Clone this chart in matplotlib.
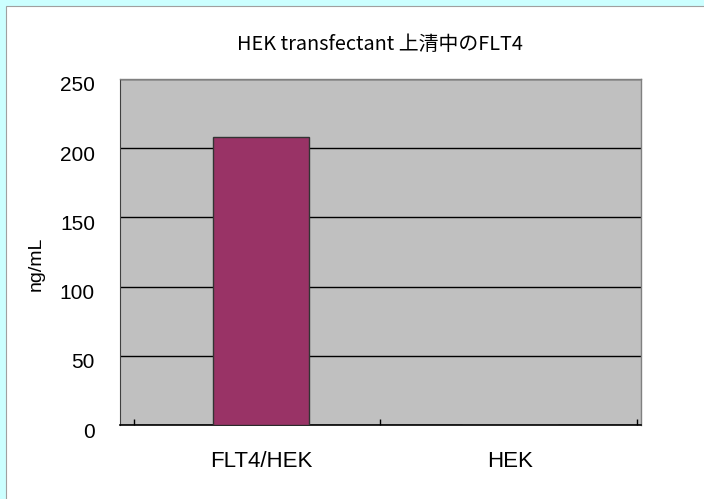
import matplotlib
matplotlib.use('Agg')
import matplotlib.pyplot as plt
from matplotlib.patches import Rectangle
from matplotlib.transforms import ScaledTranslation

categories = ['FLT4/HEK', 'HEK']
values = [208, 0]
yticks = [0, 50, 100, 150, 200, 250]
title = 'HEK transfectant 上清中のFLT4'
ylabel = 'ng/mL'

plt.rcParams['font.family'] = ['Liberation Sans', 'DejaVu Sans']

fig = plt.figure(figsize=(7.04, 4.99), dpi=100)
fig.patch.set_facecolor('white')

# cyan frame on top and left edges only
fig.patches.append(Rectangle((0, 0), 1, 1, transform=fig.transFigure,
                             facecolor='#CCFFFF', edgecolor='none', zorder=-3))
fig.patches.append(Rectangle((6 / 704, -0.05), 1.1, 1.05 - 6 / 499, transform=fig.transFigure,
                             facecolor='white', edgecolor='#A0A0A0', linewidth=0.8, zorder=-2))

ax = fig.add_axes([120 / 704, 74 / 499, 521 / 704, 346 / 499])
ax.set_facecolor('#C0C0C0')

x = list(range(len(categories)))
ax.bar(x, values, width=0.386, color='#993366', edgecolor='#333333', linewidth=1, zorder=3)

ax.set_ylim(0, 250)
ax.set_xlim(-0.566, 1.526)
ax.set_yticks(yticks)
ax.set_yticklabels([str(v) for v in yticks], fontsize=15)
ax.yaxis.grid(True, color='black', linewidth=1)
ax.set_axisbelow(True)
ax.tick_params(axis='y', length=0, pad=18)
shift = ScaledTranslation(0, -5 / 100, fig.dpi_scale_trans)
for lab in ax.get_yticklabels():
    lab.set_transform(lab.get_transform() + shift)
ax.set_xticks(x)
ax.set_xticklabels(categories, fontsize=16)
ax.tick_params(axis='x', length=0, pad=19)
# small category-boundary ticks on the bottom axis
ax.set_xticks([-0.51, 0.48, 1.51], minor=True)
ax.tick_params(axis='x', which='minor', direction='in', length=4, width=1, color='black')

for s in ['top', 'right']:
    ax.spines[s].set_color('#808080')
    ax.spines[s].set_linewidth(1)
ax.spines['left'].set_color('#404040')
ax.spines['bottom'].set_color('black')
ax.spines['bottom'].set_linewidth(1.2)

ax.set_ylabel(ylabel, fontsize=14, labelpad=11)
ax.yaxis.label.set_y(0.5 - 12 / 346)
fig.text(380 / 704, 1 - 45 / 499, title, ha='center', va='center', fontsize=14.3,
         family=['Noto Sans CJK JP', 'DejaVu Sans'])

fig.savefig('out.png', dpi=100)
